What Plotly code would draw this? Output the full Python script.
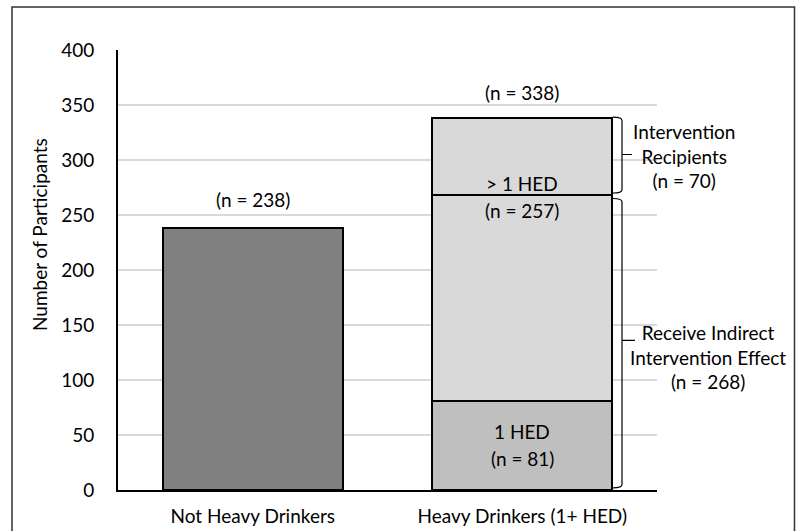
import plotly.graph_objects as go

categories = ["Not Heavy Drinkers", "Heavy Drinkers (1+ HED)"]
not_heavy = 238
one_hed = 81
more_hed = 257
recipients = 70
total_heavy = one_hed + more_hed           # 338
indirect = total_heavy - recipients        # 268

W, H = 796, 531
L, R, T, B = 118, 139, 50, 41
PW, PH = W - L - R, H - T - B

def px(x):  # pixel x -> paper
    return (x - L) / PW

def py(y):  # pixel y -> paper
    return (H - B - y) / PH

FONT = "Lato"
fs = 19

fig = go.Figure()
bw = 0.668
line = dict(color="black", width=2)
fig.add_trace(go.Bar(x=[categories[0]], y=[not_heavy], width=bw,
                     marker=dict(color="#808080", line=line)))
fig.add_trace(go.Bar(x=[categories[1]], y=[one_hed], width=bw,
                     marker=dict(color="#bfbfbf", line=line)))
fig.add_trace(go.Bar(x=[categories[1]], y=[indirect - one_hed], width=bw,
                     marker=dict(color="#d9d9d9", line=line)))
fig.add_trace(go.Bar(x=[categories[1]], y=[recipients], width=bw,
                     marker=dict(color="#d9d9d9", line=line)))

ann = []
def a(x, y, text, xref="x", yref="y", **kw):
    d = dict(x=x, y=y, xref=xref, yref=yref, text=text, showarrow=False,
             xanchor="center", yanchor="middle",
             font=dict(family=FONT, size=fs, color="black"))
    d.update(kw)
    ann.append(d)

a(0, not_heavy + 26, f"(n = {not_heavy})")
a(1, total_heavy + 23, f"(n = {total_heavy})")
a(1, indirect + 11, "> 1 HED")
a(1, indirect - 14, f"(n = {more_hed})")
a(1, one_hed - 28, "1 HED")
a(1, one_hed - 52, f"(n = {one_hed})")
a(px(684), 303.5, f"Intervention<br>Recipients<br>(n = {recipients})",
  xref="paper", yref="y")
a(px(708), 121, f"Receive Indirect<br>Intervention Effect<br>(n = {indirect})",
  xref="paper", yref="y")
a(px(40), py(235), "Number of Participants", xref="paper", yref="paper",
  textangle=-90)

shapes = []
# outer frame
shapes.append(dict(type="rect", xref="paper", yref="paper",
                   x0=px(12), x1=px(794.5), y0=py(7), y1=py(545),
                   line=dict(color="#333333", width=1.5), layer="below"))

def brace(ytop, ybot, ymid, xtip):
    x0, x1 = px(613), px(622)
    path = (f"M {x0},{ytop} Q {x1},{ytop} {x1},{ytop - 3} "
            f"L {x1},{ybot + 3} Q {x1},{ybot} {x0},{ybot} "
            f"M {x1},{ymid} L {px(xtip)},{ymid}")
    shapes.append(dict(type="path", xref="paper", yref="y", path=path,
                       line=dict(color="black", width=1.2)))

brace(total_heavy + 1, indirect + 2, 305, 632)
brace(indirect - 3, 2, 136, 635)

fig.update_layout(
    width=W, height=H,
    margin=dict(l=L, r=R, t=T, b=B, autoexpand=False),
    barmode="stack", bargap=0,
    showlegend=False,
    plot_bgcolor="white", paper_bgcolor="white",
    font=dict(family=FONT, size=fs, color="black"),
    annotations=ann, shapes=shapes,
    xaxis=dict(range=[-0.5, 1.5], showline=True, linecolor="black", linewidth=2,
               ticks="", showgrid=False, tickfont=dict(size=fs),
               ticklabelstandoff=8),
    yaxis=dict(range=[0, 400], dtick=50, showline=True, linecolor="black",
               linewidth=2, showgrid=True, gridcolor="#d9d9d9", gridwidth=1.5,
               zeroline=False, ticks="", ticklabelstandoff=18,
               tickfont=dict(size=fs)),
)
fig.write_html("out.html", config={"displayModeBar": False},
               post_script="document.body.style.margin='0';")
